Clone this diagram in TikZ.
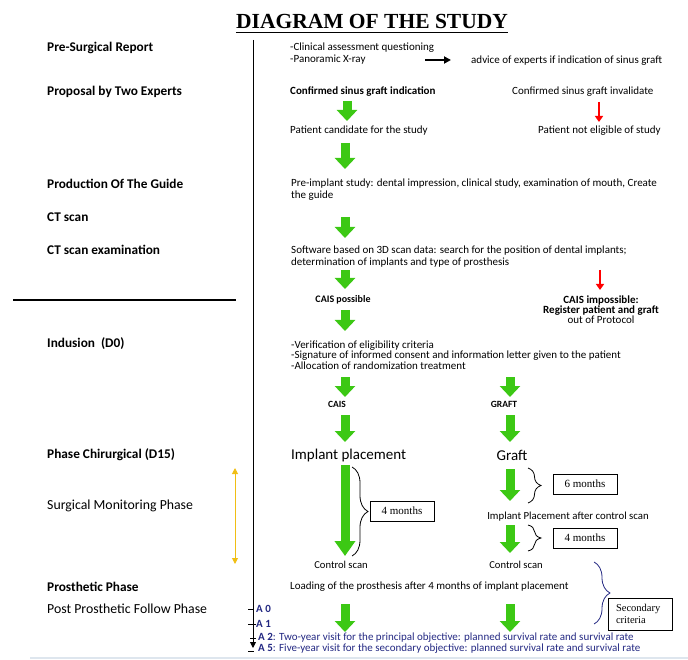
\documentclass[tikz,border=0pt]{standalone}
\usepackage{fontspec}
\setmainfont{Carlito}
\newfontfamily\timesf{Liberation Serif}
\usetikzlibrary{arrows.meta,decorations.pathreplacing}
\definecolor{grn}{RGB}{60,200,20}
\definecolor{navyc}{RGB}{35,40,130}
\definecolor{yel}{RGB}{240,190,20}
\definecolor{pale}{RGB}{222,230,238}
\begin{document}
\begin{tikzpicture}[x=1pt,y=-1pt,
  lab/.style={anchor=west,inner sep=0pt,font=\fontsize{13.3}{15}\selectfont\bfseries},
  labr/.style={anchor=west,inner sep=0pt,font=\fontsize{13.8}{15}\selectfont},
  txt/.style={anchor=west,inner sep=0pt,font=\fontsize{11}{11.5}\selectfont,align=left},
  txtb/.style={txt,font=\fontsize{11}{11}\selectfont\bfseries},
  txtc/.style={inner sep=0pt,font=\fontsize{11}{10}\selectfont,align=center},
  big/.style={inner sep=0pt,font=\fontsize{15}{17}\selectfont},
  garrow/.style={draw=grn,line width=9pt,-{Triangle[width=20pt,length=11pt]}},
  rarrow/.style={draw=red,line width=2.2pt,-{Triangle[width=8pt,length=6pt]}},
  mbox/.style={draw,line width=0.8pt,minimum width=64pt,minimum height=20pt,inner sep=1pt,font=\timesf\fontsize{11}{12}\selectfont,align=left},
  brace/.style={decorate,decoration={brace,amplitude=13pt},line width=0.8pt},
  alab/.style={anchor=west,inner sep=0pt,text=navyc,font=\fontsize{11}{12}\selectfont}
]
\useasboundingbox (0,0) rectangle (688,660);

% title
\node[font=\timesf\bfseries\fontsize{21.5}{24}\selectfont,inner sep=0pt] (title) at (372,21) {DIAGRAM OF THE STUDY};
\draw[line width=1.2pt] ([yshift=-4.5pt]title.base west) -- ([yshift=-4.5pt]title.base east);

% timeline axis and separator
\coordinate (axtop) at (253,40);
\coordinate (axbot) at (253,648);
\draw[line width=0.9pt,-{Triangle[width=6pt,length=6pt]}] (axtop) -- (axbot);
\coordinate (sepL) at (13,300);
\coordinate (sepR) at (236,300);
\draw[line width=1.6pt] (sepL) -- (sepR);

% left labels
\node[lab] (l1) at (47,48) {Pre-Surgical Report};
\node[lab] (l2) at (47,92) {Proposal by Two Experts};
\node[lab] (l3) at (47,184) {Production Of The Guide};
\node[lab] (l4) at (47,217) {CT scan};
\node[lab] (l5) at (47,250) {CT scan examination};
\node[lab] (l6) at (47,344) {Indusion\ \ (D0)};
\node[lab] (l7) at (47,455) {Phase Chirurgical (D15)};
\node[labr] (l8) at (47,506) {Surgical Monitoring Phase};
\node[lab] (l9) at (47,587) {Prosthetic Phase};
\node[labr] (l10) at (47,609) {Post Prosthetic Follow Phase};

% yellow double arrow
\coordinate (yt) at (235,468);
\coordinate (yb) at (235,564);
\draw[yel,line width=1pt,{Triangle[width=6pt,length=6pt]}-{Triangle[width=6pt,length=6pt]}] (yt) -- (yb);

% pre-surgical
\node[txt,font=\fontsize{11}{12}\selectfont] (t1) at (290,54) {-Clinical assessment questioning\\-Panoramic X-ray};
\coordinate (ba1) at (425,60);
\coordinate (ba2) at (451,60);
\draw[line width=1.8pt,-{Triangle[width=7pt,length=7pt]}] (ba1) -- (ba2);
\node[txt] (t2) at (471,61) {advice of experts if indication of sinus graft};

% proposal
\node[txtb] (t3) at (290,92) {Confirmed sinus graft indication};
\node[txt] (t4) at (512,92) {Confirmed sinus graft invalidate};
\draw[garrow] (347,101) -- (347,121);
\draw[rarrow] (599,102) -- (599,122);
\node[txt] (t5) at (290,131) {Patient candidate for the study};
\node[txt] (t6) at (538,131) {Patient not eligible of study};

\draw[garrow] (345,143) -- (345,169);
\node[txt] (t7) at (291,189.5) {Pre-implant study: dental impression, clinical study, examination of mouth, Create\\the guide};
\draw[garrow] (345,217) -- (345,238);
\node[txt] (t8) at (291,256.5) {Software based on 3D scan data: search for the position of dental implants;\\determination of implants and type of prosthesis};
\draw[garrow] (345,270) -- (345,289);
\draw[rarrow] (600,270) -- (600,290);
\node[txtc,font=\fontsize{10}{10}\selectfont\bfseries] (t9) at (343,300) {CAIS possible};
\node[txtc] (t10) at (601,310) {\textbf{CAIS impossible:}\\\textbf{Register patient and graft}\\out of Protocol};
\draw[garrow] (345,310) -- (345,331);

% inclusion
\node[txt,font=\fontsize{11}{10.4}\selectfont] (t11) at (291,355) {-Verification of eligibility criteria\\-Signature of informed consent and information letter given to the patient\\-Allocation of randomization treatment};
\draw[garrow] (345,377) -- (345,397);
\draw[garrow] (510,377) -- (510,397);
\node[txtc,font=\fontsize{9.5}{10}\selectfont\bfseries] (cais) at (337,404) {CAIS};
\node[txtc,font=\fontsize{9.5}{10}\selectfont\bfseries] (graft) at (504,404) {GRAFT};
\draw[garrow] (345,415) -- (345,442);
\draw[garrow] (510,415) -- (510,442);

% surgical phase
\node[big,anchor=west] (ip) at (291,455) {Implant placement};
\node[big] (gr) at (512,455) {Graft};
\draw[draw=grn,line width=9pt,-{Triangle[width=20pt,length=15pt]}] (345,465) -- (345,556);
\draw[brace,decoration={amplitude=16pt}] (352,467) -- (352,556);
\node[mbox] (m4a) at (402,511) {4 months};

\draw[garrow] (510,469) -- (510,501);
\draw[brace] (528,468) -- (528,503);
\node[mbox] (m6) at (585,484) {6 months};
\node[txtc,font=\fontsize{10.8}{10}\selectfont] (t12) at (568,517) {Implant Placement after control scan};
\draw[garrow] (510,525) -- (510,553);
\draw[brace] (528,525) -- (528,551);
\node[mbox] (m4b) at (585,538) {4 months};

\node[txtc,font=\fontsize{10.6}{10}\selectfont] (cs1) at (341,565) {Control scan};
\node[txtc,font=\fontsize{10.6}{10}\selectfont] (cs2) at (516,565) {Control scan};

% prosthetic
\node[txt] (t13) at (290,587) {Loading of the prosthesis after 4 months of implant placement};
\draw[brace,navyc,decoration={amplitude=16pt}] (594,562) -- (594,624);
\node[draw,line width=0.8pt,minimum width=64pt,minimum height=32pt,inner sep=0pt,font=\timesf\fontsize{10.5}{11.5}\selectfont,align=left,text width=48pt] (sec) at (640,614) {Secondary\\criteria};

\draw[garrow] (345,604) -- (345,632);
\draw[garrow] (510,604) -- (510,632);

% axis ticks and visits
\draw[line width=0.7pt] (248,609) -- (254,609);
\node[alab] (a0) at (256,609) {\textbf{A 0}};
\draw[line width=0.7pt] (248,624) -- (256,624);
\node[alab] (a1) at (256,624) {\textbf{A 1}};
\draw[line width=0.7pt] (250,638) -- (256,638);
\node[alab] (a2) at (258,638) {\textbf{A 2}: Two-year visit for the principal objective: planned survival rate and survival rate};
\draw[line width=0.7pt] (248,651) -- (254,651);
\node[alab] (a5) at (258,649) {\textbf{A 5}: Five-year visit for the secondary objective: planned survival rate and survival rate};

% bottom rule
\coordinate (bl) at (30,658);
\coordinate (br) at (688,658);
\draw[pale,line width=2pt] (bl) -- (br);
\end{tikzpicture}
\end{document}
